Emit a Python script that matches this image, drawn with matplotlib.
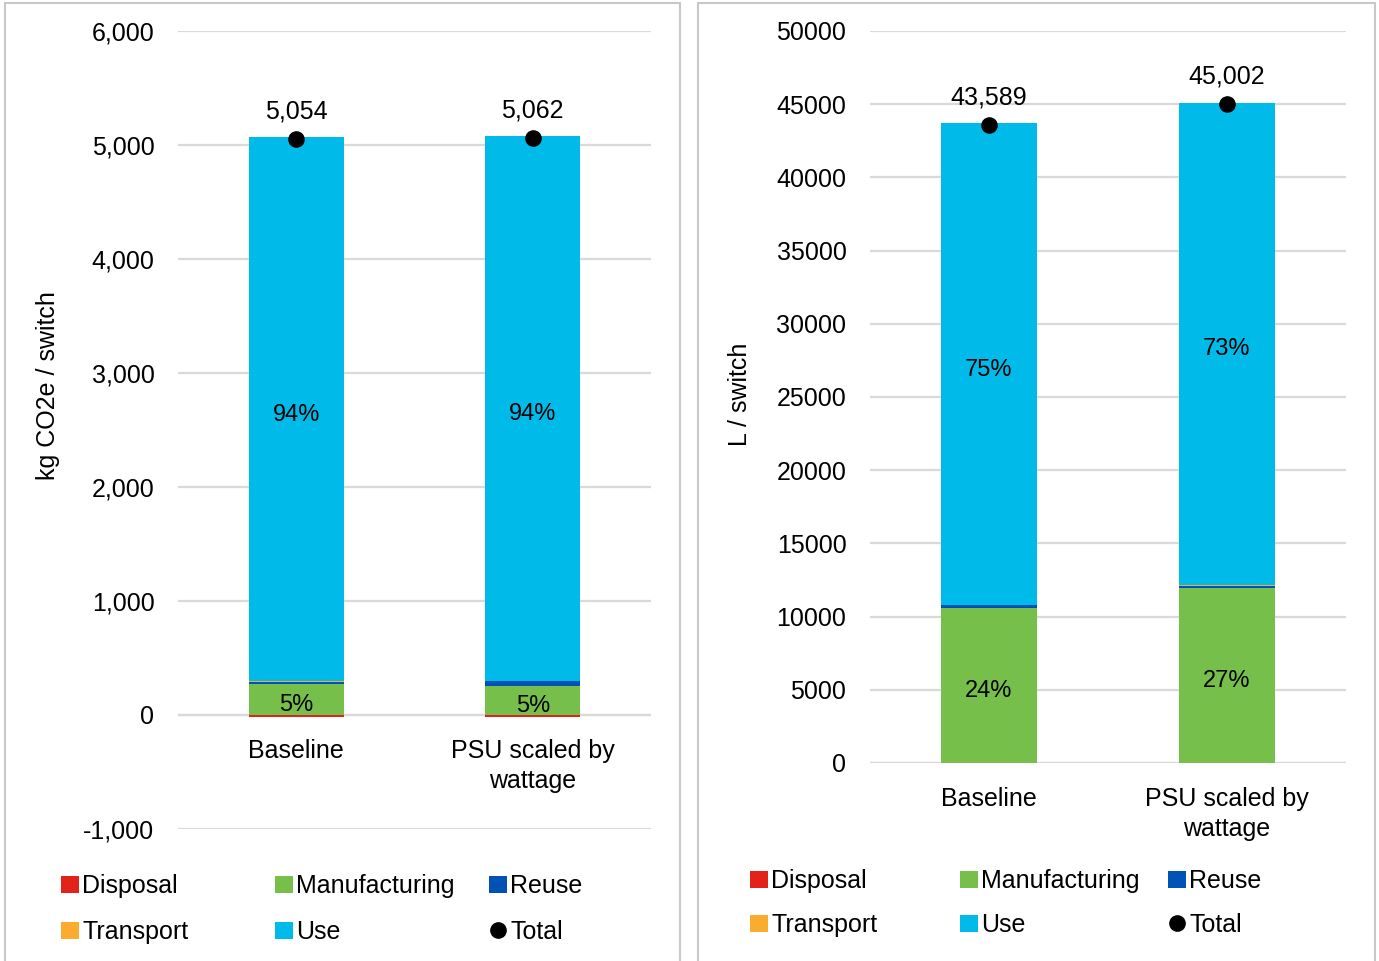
import matplotlib.pyplot as plt
import numpy as np
from matplotlib.patches import Patch, Rectangle
from matplotlib.lines import Line2D
from matplotlib.ticker import FuncFormatter

plt.rcParams['font.family'] = ['Liberation Sans', 'DejaVu Sans']

categories = ['Baseline', 'PSU scaled by\nwattage']

# Carbon footprint, kg CO2e per switch
co2_disposal = [-15, -15]
co2_manufacturing = [268, 255]
co2_reuse = [18, 40]
co2_transport = [10, 5]
co2_total = [5054, 5062]

# Water footprint, L per switch
water_disposal = [-100, -100]
water_manufacturing = [10580, 11950]
water_reuse = [180, 170]
water_transport = [30, 30]
water_total = [43589, 45002]

colors = {
    'Disposal': '#e2231a',
    'Manufacturing': '#76bf4b',
    'Reuse': '#0052b4',
    'Transport': '#fbab2e',
    'Use': '#00bbea',
}
grid_color = '#d9d9d9'
FS = 18


def draw_panel(ax, disposal, manuf, reuse, transport, total, ylim, yticks,
               fmt, ylabel):
    x = np.arange(len(categories))
    w = 0.4
    disposal = np.array(disposal, float)
    manuf = np.array(manuf, float)
    reuse = np.array(reuse, float)
    transport = np.array(transport, float)
    total = np.array(total, float)
    use = total - disposal - manuf - reuse - transport

    ax.bar(x, disposal, w, color=colors['Disposal'], zorder=3)
    bottom = np.zeros(len(x))
    for name, vals in [('Manufacturing', manuf), ('Reuse', reuse),
                       ('Transport', transport), ('Use', use)]:
        ax.bar(x, vals, w, bottom=bottom, color=colors[name], zorder=3)
        if name in ('Manufacturing', 'Use'):
            for xi, b, v, t in zip(x, bottom, vals, total):
                ax.annotate(f'{v / t * 100:.0f}%', (xi, b + v / 2),
                            xytext=(0, -4), textcoords='offset points',
                            ha='center', va='center', fontsize=FS - 1,
                            zorder=5)
        bottom = bottom + vals

    ax.scatter(x, total, s=120, color='black', zorder=6)
    for xi, t in zip(x, total):
        ax.annotate(f'{t:,.0f}', (xi, t), xytext=(0, 11),
                    textcoords='offset points', ha='center', va='bottom',
                    fontsize=FS)

    # category names sit just under the zero line
    for xi, c in zip(x, categories):
        ax.annotate(c, (xi, 0), xytext=(0, -17), textcoords='offset points',
                    ha='center', va='top', fontsize=FS, linespacing=1.35)

    ax.set_xlim(-0.5, len(x) - 0.5)
    ax.set_ylim(*ylim)
    ax.set_yticks(yticks)
    ax.yaxis.set_major_formatter(FuncFormatter(fmt))
    ax.set_xticks([])
    ax.tick_params(axis='y', length=0, labelsize=FS, pad=17)
    ax.grid(axis='y', color=grid_color, linewidth=1.6, zorder=0)
    ax.axhline(0, color=grid_color, linewidth=1.6, zorder=2)
    for s in ax.spines.values():
        s.set_visible(False)
    ax.set_ylabel(ylabel, fontsize=FS)


fig = plt.figure(figsize=(13.79, 9.61), dpi=100)

# panel frames
fig.add_artist(Rectangle((5 / 1379, -0.01), 675 / 1379, 1.0 - 3 / 961 + 0.01,
                         transform=fig.transFigure, fill=False,
                         edgecolor='#c8c8c8', linewidth=1.5))
fig.add_artist(Rectangle((698 / 1379, -0.01), 677 / 1379, 1.0 - 3 / 961 + 0.01,
                         transform=fig.transFigure, fill=False,
                         edgecolor='#c8c8c8', linewidth=1.5))

ax1 = fig.add_axes([178 / 1379, 1 - 829 / 961, 473 / 1379, (829 - 31) / 961])
draw_panel(ax1, co2_disposal, co2_manufacturing, co2_reuse, co2_transport,
           co2_total, (-1000, 6000), np.arange(-1000, 6001, 1000),
           lambda v, p: f'{v:,.0f}', 'kg CO2e / switch')
ax1.yaxis.set_label_coords(-0.25, 0.556)

ax2 = fig.add_axes([870 / 1379, 1 - 763 / 961, 476 / 1379, (763 - 31) / 961])
draw_panel(ax2, water_disposal, water_manufacturing, water_reuse,
           water_transport, water_total, (0, 50000),
           np.arange(0, 50001, 5000), lambda v, p: f'{v:.0f}', 'L / switch')
ax2.yaxis.set_label_coords(-0.248, 0.503)

# legend entries laid out on a fixed 3x2 grid
legend_names = ['Disposal', 'Manufacturing', 'Reuse',
                'Transport', 'Use', 'Total']


def legend_handle(name):
    if name == 'Total':
        return Line2D([], [], marker='o', color='black', linestyle='',
                      markersize=11)
    return Patch(facecolor=colors[name])


for cols, rows in [((61, 275, 489), (886, 932)),
                   ((750, 960, 1168), (881, 925))]:
    for i, name in enumerate(legend_names):
        px = cols[i % 3]
        py = rows[i // 3]
        fig.legend([legend_handle(name)], [name], loc='center left',
                   bbox_to_anchor=(px / 1379, 1 - py / 961), frameon=False,
                   fontsize=FS, handlelength=0.7, handleheight=0.7,
                   handletextpad=0.15, borderaxespad=0, borderpad=0)

fig.savefig('out.png', dpi=100)
